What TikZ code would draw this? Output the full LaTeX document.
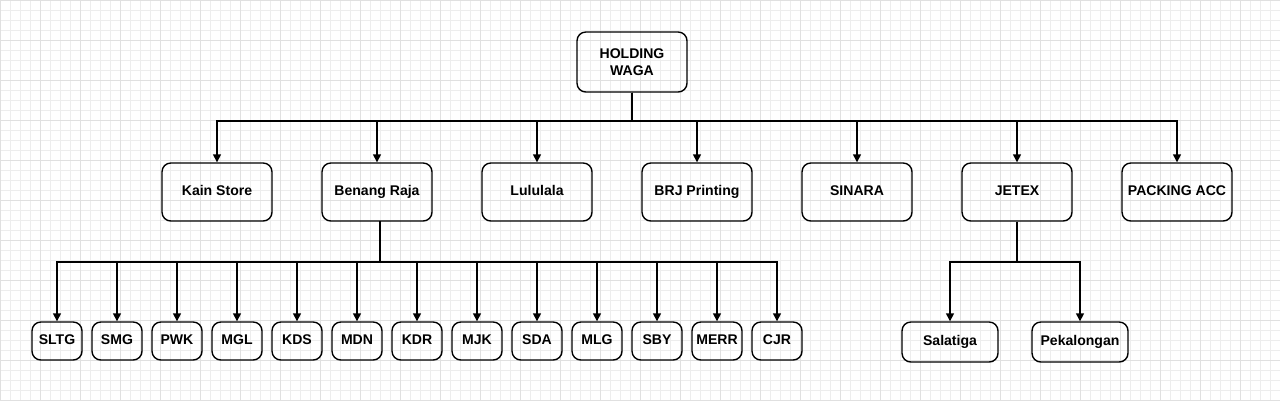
\documentclass[tikz,border=0pt]{standalone}
\usepackage{fontspec}
\setmainfont{Liberation Sans}
\usetikzlibrary{arrows.meta}
\tikzset{box/.style={draw,thick,rounded corners=5pt,align=center,text height=6pt,text depth=1.5pt,font=\bfseries\fontsize{8}{9.5}\selectfont},
  conn/.style={thick,-{Triangle[length=4.5pt,width=4.5pt]}}}
\begin{document}
\begin{tikzpicture}[x=0.02cm,y=-0.02cm]
\useasboundingbox (0,0) rectangle (1280,400);
\foreach \k in {0,10,...,1280} \draw[black!7,line width=0.3pt] (\k,0) -- (\k,400);
\foreach \k in {0,10,...,400} \draw[black!7,line width=0.3pt] (0,\k) -- (1280,\k);
\foreach \k in {0,40,...,1280} \draw[black!12,line width=0.4pt] (\k,0) -- (\k,400);
\foreach \k in {0,40,...,400} \draw[black!12,line width=0.4pt] (0,\k) -- (1280,\k);
\node[box,text height=,text depth=,minimum width=2.2cm,minimum height=1.2cm] (hw) at (632,62) {HOLDING\\WAGA};
\foreach \n/\t [count=\i from 0] in {ks/Kain Store,br/Benang Raja,lu/Lululala,bp/BRJ Printing,si/SINARA,je/JETEX,pa/PACKING ACC}
  {\node[box,minimum width=2.2cm,minimum height=1.16cm] (\n) at ({217+160*\i},192) {\t};
   \draw[conn] (hw.south) -- (632,121) -| (\n.north);}
\foreach \n [count=\i from 0] in {SLTG,SMG,PWK,MGL,KDS,MDN,KDR,MJK,SDA,MLG,SBY,MERR,CJR}
  {\node[box,minimum width=1cm,minimum height=0.76cm,inner sep=1pt] (\n) at ({57+60*\i},341) {\n};
   \draw[conn] (380,221) -- (380,262) -| (\n.north);}
\node[box,minimum width=1.92cm,minimum height=0.8cm] (sa) at (950,342) {Salatiga};
\node[box,minimum width=1.92cm,minimum height=0.8cm] (pe) at (1080,342) {Pekalongan};
\foreach \n in {sa,pe} \draw[conn] (je.south) -- (1017,262) -| (\n.north);
\end{tikzpicture}
\end{document}
